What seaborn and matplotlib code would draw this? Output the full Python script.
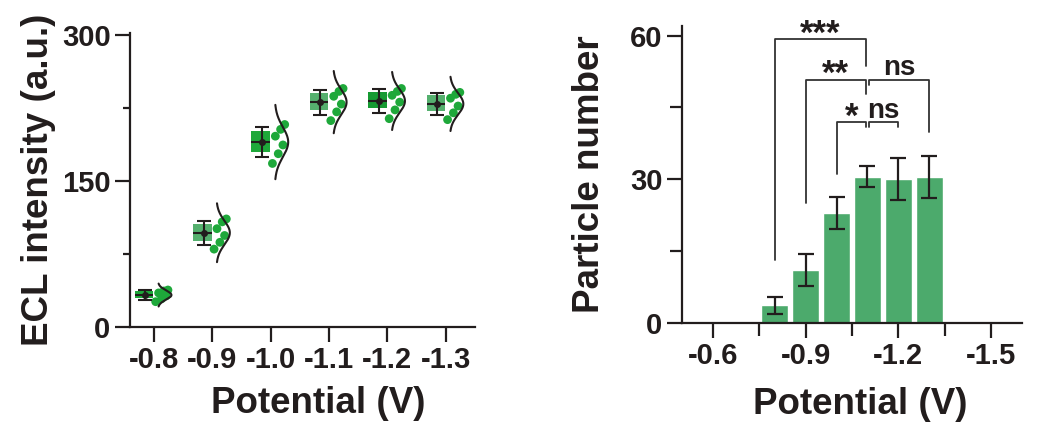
import numpy as np
import pandas as pd
import matplotlib
matplotlib.use("Agg")
import matplotlib.pyplot as plt
import seaborn as sns

# ---------------- data ----------------
categories = ["-0.8", "-0.9", "-1.0", "-1.1", "-1.2", "-1.3"]
ecl_m08 = [26, 29, 32, 35, 37, 38]
ecl_m09 = [80, 87, 94, 101, 108, 111]
ecl_m10 = [168, 178, 187, 196, 203, 208]
ecl_m11 = [212, 221, 229, 237, 242, 245]
ecl_m12 = [214, 223, 231, 238, 242, 245]
ecl_m13 = [213, 220, 227, 235, 239, 241]
ecl_groups = [ecl_m08, ecl_m09, ecl_m10, ecl_m11, ecl_m12, ecl_m13]

bar_potentials = [-0.8, -0.9, -1.0, -1.1, -1.2, -1.3]
particle_mean = [3.7, 11.0, 23.0, 30.5, 30.0, 30.5]
particle_sd = [1.8, 3.3, 3.4, 2.2, 4.4, 4.4]

# significance brackets: (x_left, x_right, y_top, y_left_end, y_right_end, label)
brackets = [
    (-0.8, -1.095, 59.2, 13.1, 53.7, "***"),
    (-0.9, -1.095, 50.8, 25.0, 47.9, "**"),
    (-1.105, -1.3, 50.8, 49.6, 39.8, "ns"),
    (-1.0, -1.095, 41.9, 31.2, 40.9, "*"),
    (-1.105, -1.2, 41.9, 40.9, 40.9, "ns"),
]

left_ticks = [0, 150, 300]
right_yticks = [0, 30, 60]
right_xticks = [-0.6, -0.9, -1.2, -1.5]
right_xtick_labels = ["-0.6", "-0.9", "-1.2", "-1.5"]

# ---------------- style ----------------
sns.set_theme(style="ticks")
plt.rcParams["font.family"] = ["Liberation Sans", "DejaVu Sans"]
plt.rcParams["font.weight"] = "bold"
plt.rcParams["axes.unicode_minus"] = False

DARK = "#221d1d"
box_colors = ["#1ea83a", "#55b06e", "#1ea83a", "#55b06e", "#169a32", "#55b06e"]
dot_color = "#1ea83a"
bar_color = "#4caa6c"
TICK_FS = 21
LABEL_FS = 26.5

fig = plt.figure(figsize=(10.49, 4.23), dpi=100)
ax1 = fig.add_axes([130 / 1049, 1 - 327 / 423, 345 / 1049, 294 / 423])
ax2 = fig.add_axes([682 / 1049, 1 - 323 / 423, 340 / 1049, 297 / 423])

# ---------------- left panel ----------------
rows = []
for i, (cat, vals) in enumerate(zip(categories, ecl_groups)):
    for v in vals:
        rows.append({"cat": cat, "idx": i, "value": v})
df = pd.DataFrame(rows)

box_offset = -0.17
df["box_pos"] = df["idx"] + box_offset
sns.boxplot(data=df, x="box_pos", y="value", hue="box_pos", native_scale=True,
            palette=box_colors, width=0.32, whis=0, showfliers=False, showcaps=False,
            legend=False, linewidth=0, saturation=1,
            boxprops=dict(linewidth=0, edgecolor="none"),
            whiskerprops=dict(linewidth=0),
            medianprops=dict(linewidth=0), ax=ax1)

means = np.array([np.mean(g) for g in ecl_groups])
sds = np.array([np.std(g, ddof=1) for g in ecl_groups])
idx = np.arange(len(categories))
ax1.errorbar(idx + box_offset + 0.02, means, yerr=sds, fmt="o", ms=4, color=DARK,
             ecolor=DARK, elinewidth=1.5, capsize=5, capthick=1.5, zorder=4)
ax1.hlines(means, idx + box_offset - 0.16, idx + box_offset + 0.16,
           color=DARK, lw=1.5, zorder=4)

jitter = [0.03, 0.13, 0.21, 0.08, 0.17, 0.24]
dot_x = np.concatenate([i + np.array(jitter[:len(g)]) for i, g in enumerate(ecl_groups)])
dot_y = np.concatenate(ecl_groups)
sns.scatterplot(x=dot_x, y=dot_y, color=dot_color, s=40, edgecolor="none",
                ax=ax1, zorder=3, legend=False)

for i, (m, s) in enumerate(zip(means, sds)):
    yy = np.linspace(m - 2.5 * s, m + 2.5 * s, 200)
    dens = np.exp(-0.5 * ((yy - m) / s) ** 2)
    ax1.plot(i + 0.07 + 0.23 * dens, yy, color=DARK, lw=1.5, zorder=5)

ax1.set_xlim(-0.41, 5.5)
ax1.set_ylim(0, 302)
ax1.set_xticks(idx)
ax1.set_xticklabels(categories)
ax1.set_yticks(left_ticks)
ax1.set_yticks([75, 225], minor=True)
ax1.set_xlabel("Potential (V)", fontsize=LABEL_FS, fontweight="bold", color=DARK)
ax1.xaxis.set_label_coords(0.545, -0.20)
ax1.set_ylabel("ECL intensity (a.u.)", fontsize=LABEL_FS, fontweight="bold", color=DARK)
ax1.yaxis.set_label_coords(-0.215, 0.50)

# ---------------- right panel ----------------
sns.barplot(x=bar_potentials, y=particle_mean, native_scale=True, color=bar_color,
            saturation=1, width=0.88, errorbar=None, ax=ax2, zorder=2)
ax2.errorbar(bar_potentials, particle_mean, yerr=particle_sd, fmt="none",
             ecolor=DARK, elinewidth=1.6, capsize=6, capthick=1.6, zorder=4)

for x1, x2, yt, yl, yr, lab in brackets:
    ax2.plot([x1, x1, x2, x2], [yl, yt, yt, yr], color="#333333", lw=1.3, zorder=3)
    if lab == "ns":
        ax2.text((x1 + x2) / 2, yt + 0.9, lab, ha="center", va="baseline",
                 fontsize=20, fontweight="bold", color=DARK)
    else:
        ax2.text((x1 + x2) / 2, yt - 0.9, lab, ha="center", va="baseline",
                 fontsize=25, fontweight="bold", color=DARK)

ax2.set_xlim(-0.5, -1.6)
ax2.set_ylim(0, 62)
ax2.set_xticks(right_xticks)
ax2.set_xticklabels(right_xtick_labels)
ax2.set_xticks([-0.75, -1.05, -1.35], minor=True)
ax2.set_yticks(right_yticks)
ax2.set_yticks([15, 45], minor=True)
ax2.set_xlabel("Potential (V)", fontsize=LABEL_FS, fontweight="bold", color=DARK)
ax2.xaxis.set_label_coords(0.525, -0.215)
ax2.set_ylabel("Particle number", fontsize=LABEL_FS, fontweight="bold", color=DARK)
ax2.yaxis.set_label_coords(-0.22, 0.50)

for ax in (ax1, ax2):
    sns.despine(ax=ax)
    for sp in ("left", "bottom"):
        ax.spines[sp].set_linewidth(1.6)
        ax.spines[sp].set_color(DARK)
    ax.tick_params(which="major", length=11, width=1.6, color=DARK,
                   labelsize=TICK_FS, labelcolor=DARK, pad=3)
    ax.tick_params(which="minor", length=5, width=1.6, color=DARK)
    for lab in ax.get_xticklabels() + ax.get_yticklabels():
        lab.set_fontweight("bold")
ax2.tick_params(axis="x", which="minor", length=9)
ax2.tick_params(axis="y", which="minor", length=9)

fig.savefig("out.png", dpi=100)
